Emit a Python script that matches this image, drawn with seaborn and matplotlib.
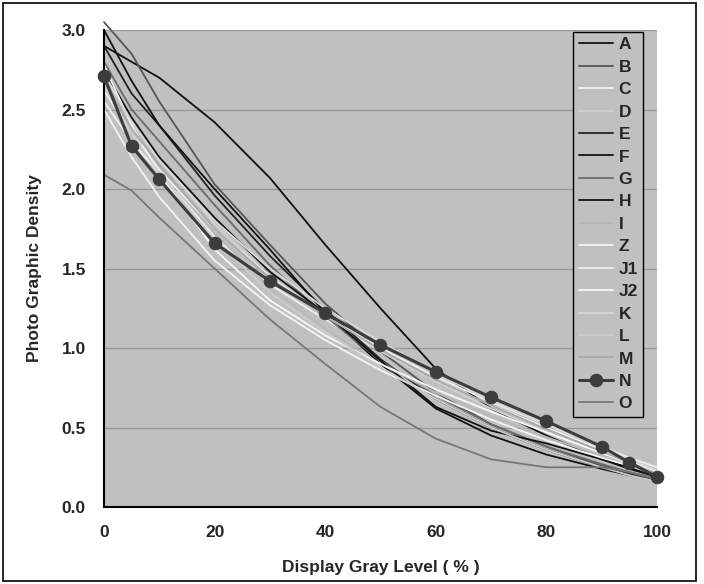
import numpy as np
import pandas as pd
import matplotlib
matplotlib.use("Agg")
import matplotlib.pyplot as plt
import seaborn as sns
from matplotlib.patches import Rectangle

# gray level steps (%)
levels = [0, 5, 10, 20, 30, 40, 50, 60, 70, 80, 90, 95, 100]

A = [2.90, 2.80, 2.70, 2.42, 2.07, 1.65, 1.25, 0.87, 0.62, 0.45, 0.30, 0.24, 0.19]
B = [3.05, 2.85, 2.55, 2.03, 1.65, 1.28, 0.98, 0.72, 0.52, 0.38, 0.26, 0.21, 0.17]
C = [2.55, 2.30, 2.10, 1.70, 1.40, 1.18, 0.98, 0.80, 0.64, 0.50, 0.36, 0.29, 0.22]
D = [2.75, 2.45, 2.20, 1.78, 1.45, 1.20, 0.98, 0.79, 0.62, 0.47, 0.34, 0.27, 0.21]
E = [2.90, 2.60, 2.40, 1.96, 1.58, 1.24, 0.93, 0.68, 0.50, 0.36, 0.25, 0.21, 0.17]
F = [3.00, 2.68, 2.40, 2.00, 1.62, 1.22, 0.90, 0.62, 0.45, 0.33, 0.24, 0.20, 0.17]
G = [2.80, 2.50, 2.30, 1.90, 1.52, 1.20, 0.92, 0.70, 0.52, 0.38, 0.27, 0.22, 0.18]
H = [2.75, 2.45, 2.20, 1.82, 1.48, 1.22, 0.92, 0.63, 0.48, 0.40, 0.30, 0.25, 0.19]
I = [2.70, 2.40, 2.15, 1.72, 1.38, 1.12, 0.90, 0.72, 0.57, 0.44, 0.32, 0.26, 0.20]
Z = [2.50, 2.20, 1.95, 1.55, 1.27, 1.05, 0.86, 0.70, 0.55, 0.42, 0.31, 0.26, 0.21]
J1 = [2.62, 2.35, 2.12, 1.75, 1.45, 1.20, 1.00, 0.82, 0.66, 0.52, 0.38, 0.31, 0.25]
J2 = [2.78, 2.40, 2.10, 1.62, 1.30, 1.08, 0.90, 0.74, 0.60, 0.47, 0.34, 0.28, 0.22]
K = [2.72, 2.42, 2.18, 1.80, 1.50, 1.25, 1.04, 0.84, 0.67, 0.52, 0.37, 0.30, 0.23]
L = [2.65, 2.35, 2.10, 1.68, 1.35, 1.10, 0.88, 0.68, 0.50, 0.36, 0.25, 0.20, 0.16]
M = [2.68, 2.38, 2.15, 1.75, 1.44, 1.20, 0.99, 0.80, 0.64, 0.49, 0.35, 0.28, 0.21]
N = [2.71, 2.27, 2.06, 1.66, 1.42, 1.22, 1.02, 0.85, 0.69, 0.54, 0.38, 0.28, 0.19]
O = [2.09, 1.99, 1.82, 1.50, 1.18, 0.90, 0.63, 0.43, 0.30, 0.25, 0.25, 0.22, 0.17]

names = ["A", "B", "C", "D", "E", "F", "G", "H", "I", "Z", "J1", "J2", "K", "L", "M", "N", "O"]
series = [A, B, C, D, E, F, G, H, I, Z, J1, J2, K, L, M, N, O]
colors = ["#111111", "#555555", "#f0f0f0", "#d0d0d0", "#222222", "#111111", "#6a6a6a",
          "#111111", "#b8b8b8", "#f4f4f4", "#eeeeee", "#f8f8f8", "#d8d8d8", "#cccccc",
          "#a8a8a8", "#3c3c3c", "#777777"]

sns.set_style("white", {"axes.facecolor": "#c0c0c0"})
plt.rcParams["font.family"] = ["Liberation Sans", "DejaVu Sans"]
plt.rcParams["font.weight"] = "bold"

fig = plt.figure(figsize=(7.04, 5.84), dpi=100)
ax = fig.add_axes([0.1477, 0.1318, 0.7855, 0.8168])

for name, vals, col in zip(names, series, colors):
    df = pd.DataFrame({"level": levels, "density": vals})
    if name == "N":
        sns.lineplot(data=df, x="level", y="density", color=col, lw=2.2, marker="o",
                     markersize=9, markeredgecolor=col, label=name, ax=ax, zorder=5,
                     clip_on=False)
    else:
        sns.lineplot(data=df, x="level", y="density", color=col, lw=1.3, label=name, ax=ax,
                     clip_on=False)

ax.set_xlim(0, 100)
ax.set_ylim(0, 3.0)
ax.set_xticks([0, 20, 40, 60, 80, 100])
ax.set_yticks(np.arange(0, 3.01, 0.5))
ax.set_yticklabels([f"{v:.1f}" for v in np.arange(0, 3.01, 0.5)])
ax.yaxis.grid(True, color="#999999", lw=1)
ax.xaxis.grid(False)
ax.set_axisbelow(True)
for s in ("top", "right"):
    ax.spines[s].set_visible(False)
for s in ("left", "bottom"):
    ax.spines[s].set_color("black")
    ax.spines[s].set_linewidth(1.5)
ax.tick_params(axis="both", direction="in", length=6, width=1.5, color="black",
               labelsize=12.5, pad=13)
for lab in ax.get_xticklabels() + ax.get_yticklabels():
    lab.set_fontweight("bold")

ax.set_xlabel("Display Gray Level ( % )", fontsize=12.5, fontweight="bold", labelpad=14)
ax.set_ylabel("Photo Graphic Density", fontsize=12.5, fontweight="bold", labelpad=14)

leg = ax.legend(loc="upper right", bbox_to_anchor=(0.975, 0.996), borderaxespad=0,
                fancybox=False, edgecolor="black", framealpha=1, fontsize=12.5,
                labelspacing=0.42, handlelength=2.0, handletextpad=0.3, borderpad=0.3)
leg.get_frame().set_linewidth(1.0)
for t in leg.get_texts():
    t.set_fontweight("bold")

fig.patches.append(Rectangle((0.004, 0.005), 0.985, 0.99, transform=fig.transFigure,
                             fill=False, edgecolor="black", lw=1.2))

fig.savefig("out.png", dpi=100)
